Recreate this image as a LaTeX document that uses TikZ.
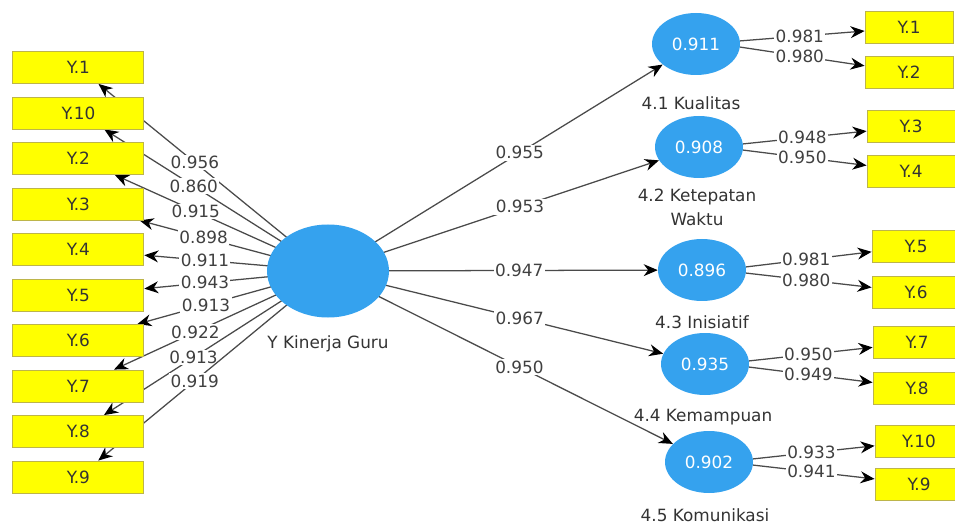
\documentclass[tikz,border=0pt]{standalone}
\usepackage{fontspec}
\setmainfont{DejaVu Sans}
\usepackage{xcolor}
\definecolor{lvBlue}{HTML}{35A2EE}
\definecolor{mvYellow}{HTML}{FFFF00}
\definecolor{mvEdge}{HTML}{BDB54A}
\definecolor{pathGray}{HTML}{4A4A4A}
\usepackage{tikz}
\usetikzlibrary{arrows.meta,positioning,shapes.geometric}
\pgfdeclarelayer{background}
\pgfsetlayers{background,main}

\begin{document}
\begin{tikzpicture}[
  font=\fontsize{12}{14}\selectfont,
  ybox/.style={draw=mvEdge, fill=mvYellow, line width=0.6pt, minimum width=3.275cm,
    minimum height=0.8cm, inner sep=0pt, text=black!80},
  rbox/.style={ybox, minimum width=2.2cm},
  latent/.style={ellipse, fill=lvBlue, inner sep=0pt, minimum width=2.2cm,
    minimum height=1.55cm, text=white, font=\fontsize{12}{14}\selectfont},
  caption/.style={text=black!80, align=center, inner sep=1pt, font=\fontsize{12}{17}\selectfont},
  link/.style={-{Stealth[length=10pt,width=8.5pt,black]}, draw=pathGray, line width=0.9pt},
  val/.style={fill=white, inner sep=1pt, text=black!75}]
  \clip (0,0) rectangle (23.875,13.1);
  % central construct
  \node[latent, minimum width=3.05cm, minimum height=2.325cm] (Y) at (8.2,6.325) {};
  \node[caption, below=0.4cm of Y] (Ycap) {Y Kinerja Guru};
  % indicators on the left
  \foreach \lab [count=\i] in {1,10,2,3,4,5,6,7,8,9}
    \node[ybox] (l\i) at (1.96,{11.4125-(\i-1)*1.1375}) {Y.\lab};
  % dimensions
  \node[latent] (d1) at (17.4,12.0) {0.911};
  \node[latent] (d2) at (17.475,9.425) {0.908};
  \node[latent] (d3) at (17.55,6.35) {0.896};
  \node[latent] (d4) at (17.625,4.0) {0.935};
  \node[latent] (d5) at (17.725,1.55) {0.902};
  \node[caption] (c1) at (17.275,10.525) {4.1 Kualitas};
  \node[caption] (c2) at (17.425,7.9125) {4.2 Ketepatan\\Waktu};
  \node[caption] (c3) at (17.55,5.05) {4.3 Inisiatif};
  \node[caption] (c4) at (17.575,2.675) {4.4 Kemampuan};
  \node[caption] (c5) at (17.625,0.225) {4.5 Komunikasi};
  % indicators on the right
  \foreach \lab/\x/\y [count=\i] in {1/22.725/12.4125, 2/22.725/11.2875, 3/22.775/9.9375,
      4/22.775/8.825, 5/22.9/6.9375, 6/22.9/5.7875, 7/22.925/4.5375, 8/22.925/3.4,
      10/22.975/2.075, 9/22.975/1.0}
    \node[rbox] (r\i) at (\x,\y) {Y.\lab};
  % paths, behind the shapes
  \begin{pgfonlayer}{background}
    \foreach \i/\v/\p in {1/0.956/0.58, 2/0.860/0.60, 3/0.915/0.62, 4/0.898/0.66,
        5/0.911/0.67, 6/0.943/0.67, 7/0.913/0.64, 8/0.922/0.62, 9/0.913/0.60, 10/0.919/0.58}
      \draw[link] (Y.center) -- node[val, pos=\p] {\v} (l\i);
    \foreach \i/\v/\p in {1/0.955/0.573, 2/0.953/0.58, 3/0.947/0.58, 4/0.967/0.572, 5/0.950/0.555}
      \draw[link] (Y.center) -- node[val, pos=\p] {\v} (d\i);
    \foreach \i/\a/\b/\u/\w in {1/1/2/0.981/0.980, 2/3/4/0.948/0.950, 3/5/6/0.981/0.980,
        4/7/8/0.950/0.949, 5/9/10/0.933/0.941} {
      \draw[link] (d\i.4) -- node[val, pos=0.48] {\u} (r\a);
      \draw[link] (d\i.-4) -- node[val, pos=0.48] {\w} (r\b);
    }
  \end{pgfonlayer}
\end{tikzpicture}
\end{document}
